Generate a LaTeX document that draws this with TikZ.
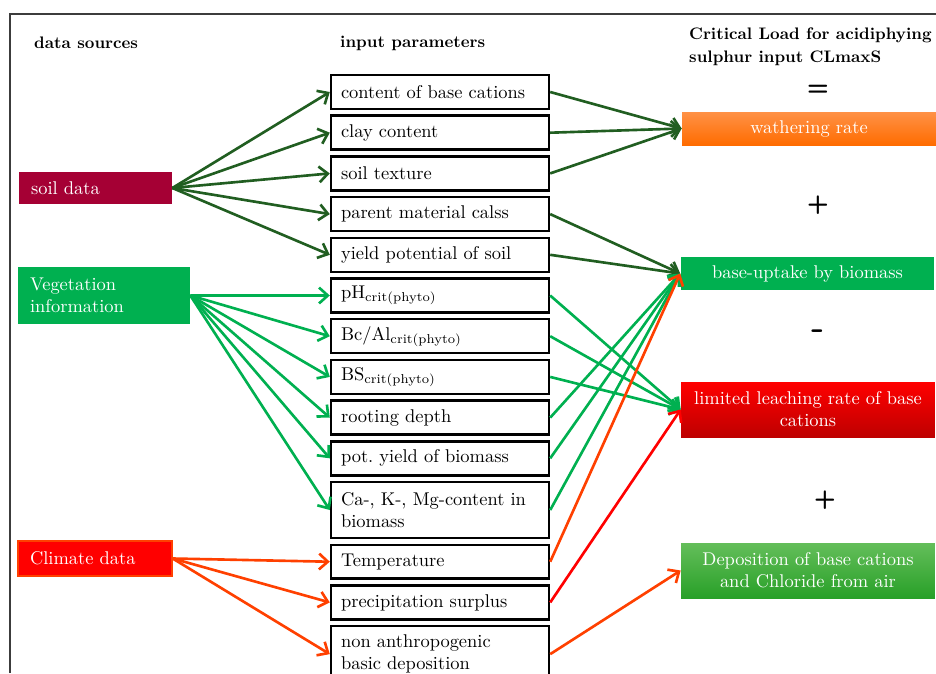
\documentclass[tikz,border=0pt]{standalone}
\usepackage{tikz}
\usetikzlibrary{positioning,arrows.meta}
\definecolor{soilred}{RGB}{165,0,52}
\definecolor{veggreen}{RGB}{0,176,80}
\definecolor{climred}{RGB}{255,0,0}
\definecolor{climorange}{RGB}{255,64,0}
\definecolor{darkleaf}{RGB}{33,94,33}
\definecolor{framegray}{RGB}{60,60,60}
\tikzset{source/.style={text=white,align=left,inner xsep=0.24cm,font=\fontsize{10.5}{12.5}\selectfont},
	 param/.style={draw,line width=1.4pt,minimum height=0.68cm,text width=3.96cm,align=left,inner xsep=0.2cm,inner ysep=1pt,font=\fontsize{10.5}{12.5}\selectfont},
	 result/.style={text=white,minimum width=5.08cm,text width=4.8cm,align=center,minimum height=0.66cm,inner ysep=1pt,font=\fontsize{10.5}{12.5}\selectfont},
	 heading/.style={anchor=west,align=left,font=\fontsize{9.5}{13}\selectfont\bfseries},
	 opsign/.style={font=\sffamily\bfseries\Large},
	 soilarrow/.style={draw=darkleaf,line width=1.5pt,-{Straight Barb[length=5pt,width=9pt]}},
	 vegarrow/.style={draw=veggreen,line width=1.5pt,-{Straight Barb[length=5pt,width=9pt]}},
	 climarrow/.style={draw=climorange,line width=1.5pt,-{Straight Barb[length=5pt,width=9pt]}},
	 redarrow/.style={draw=climred,line width=1.5pt,-{Straight Barb[length=5pt,width=9pt]}},
	 node distance = 0.085cm
	 }

\begin{document}
\begin{tikzpicture}[x=0.02cm,y=-0.02cm] % critical load CLmaxS
	\useasboundingbox (0,0) rectangle (936,673);
	\draw[framegray,line width=0.8pt] (10,673) -- (10,14) -- (936,14);
	\node[heading] (h1) at (28,43) {data sources};
	\node[heading] (h2) at (334,43) {input parameters};
	\node[heading] (h3) at (683,47) {Critical Load for acidiphying\\sulphur input CLmaxS};
	\node[source,fill=soilred,minimum width=3.06cm,minimum height=0.64cm,text width=2.58cm] (soil) at (95.5,188) {soil data};
	\node[source,fill=veggreen,minimum width=3.44cm,minimum height=1.14cm,text width=2.96cm] (veg) at (104,295.5) {Vegetation\\information};
	\node[source,fill=climred,draw=climorange,line width=0.8pt,minimum width=3.08cm,minimum height=0.7cm,text width=2.6cm] (clim) at (95,558.5) {Climate data};
	\node[param] (p1) at (440,92) {content of base cations};
	\node[param] (p2) [below=of p1] {clay content};
	\node[param] (p3) [below=of p2] {soil texture};
	\node[param] (p4) [below=of p3] {parent material calss};
	\node[param] (p5) [below=of p4] {yield potential of soil};
	\node[param] (p6) [below=of p5] {pH\textsubscript{crit(phyto)}};
	\node[param] (p7) [below=of p6] {Bc/Al\textsubscript{crit(phyto)}};
	\node[param] (p8) [below=of p7] {BS\textsubscript{crit(phyto)}};
	\node[param] (p9) [below=of p8] {rooting depth};
	\node[param] (p10) [below=of p9] {pot.\ yield of biomass};
	\node[param,minimum height=1.12cm] (p11) [below=of p10] {Ca-, K-, Mg-content in\\biomass};
	\node[param] (p12) [below=of p11] {Temperature};
	\node[param] (p13) [below=of p12] {precipitation surplus};
	\node[param,minimum height=1.12cm] (p14) [below=of p13] {non anthropogenic\\basic deposition};
	\node[opsign] (eq) at (818,90) {=};
	\node[result,top color={rgb,255:red,255;green,145;blue,70},bottom color={rgb,255:red,255;green,108;blue,0}] (weath) at (809,128.5) {wathering rate};
	\node[opsign] (plusa) at (818,205) {+};
	\node[result,fill=veggreen] (uptake) at (807.5,273.5) {base-uptake by biomass};
	\node[opsign,font=\sffamily\bfseries\huge] (minus) at (818,335) {-};
	\node[result,minimum height=1.1cm,top color=climred,bottom color={rgb,255:red,190;green,0;blue,0}] (leach) at (808,409.5) {limited leaching rate of base\\cations};
	\node[opsign] (plusb) at (825,500) {+};
	\node[result,minimum height=1.1cm,top color={rgb,255:red,100;green,190;blue,90},bottom color={rgb,255:red,40;green,160;blue,40}] (depo) at (808,570.5) {Deposition of base cations\\and Chloride from air};
	\draw[soilarrow] (soil.east) to (p1.west); \draw[soilarrow] (soil.east) to (p2.west);
	\draw[soilarrow] (soil.east) to (p3.west); \draw[soilarrow] (soil.east) to (p4.west);
	\draw[soilarrow] (soil.east) to (p5.west);
	\draw[vegarrow] (veg.east) to (p6.west); \draw[vegarrow] (veg.east) to (p7.west);
	\draw[vegarrow] (veg.east) to (p8.west); \draw[vegarrow] (veg.east) to (p9.west);
	\draw[vegarrow] (veg.east) to (p10.west); \draw[vegarrow] (veg.east) to (p11.west);
	\draw[climarrow] (clim.east) to (p12.west); \draw[climarrow] (clim.east) to (p13.west);
	\draw[climarrow] (clim.east) to (p14.west);
	\draw[soilarrow] (p1.east) to (weath.west); \draw[soilarrow] (p2.east) to (weath.west);
	\draw[soilarrow] (p3.east) to (weath.west);
	\draw[soilarrow] (p4.east) to (uptake.west); \draw[soilarrow] (p5.east) to (uptake.west);
	\draw[vegarrow] (p6.east) to (leach.west); \draw[vegarrow] (p7.east) to (leach.west);
	\draw[vegarrow] (p8.east) to (leach.west);
	\draw[vegarrow] (p9.east) to (uptake.west); \draw[vegarrow] (p10.east) to (uptake.west);
	\draw[vegarrow] (p11.east) to (uptake.west);
	\draw[climarrow] (p12.east) to (uptake.west);
	\draw[redarrow] (p13.east) to (leach.west);
	\draw[climarrow] (p14.east) to (depo.west);
\end{tikzpicture}
\end{document}
